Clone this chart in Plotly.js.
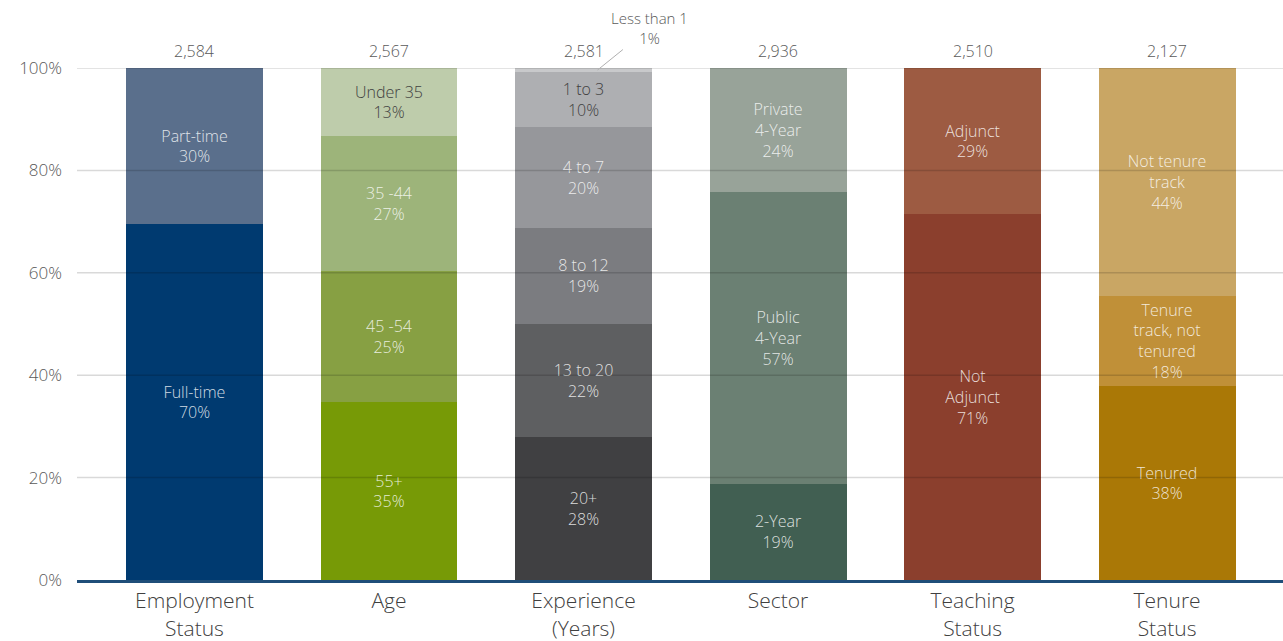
<!DOCTYPE html>
<html>
<head>
<meta charset="utf-8">
<script src="https://cdn.plot.ly/plotly-3.0.1.min.js"></script>
<style>html,body{margin:0;padding:0;background:#fff;} #chart{width:1283px;height:641px;}</style>
</head>
<body>
<div id="chart"></div>
<script>
const categories = ['Employment<br>Status', 'Age', 'Experience<br>(Years)', 'Sector', 'Teaching<br>Status', 'Tenure<br>Status'];
const totals = [2584, 2567, 2581, 2936, 2510, 2127];
const yTicks = [0, 20, 40, 60, 80, 100];

const employmentSegments = ['Full-time', 'Part-time'];
const employmentValues = [69.5, 30.5];
const employmentPct = [70, 30];

const ageSegments = ['55+', '45 -54', '35 -44', 'Under 35'];
const ageValues = [34.8, 25.6, 26.3, 13.3];
const agePct = [35, 25, 27, 13];

const experienceSegments = ['20+', '13 to 20', '8 to 12', '4 to 7', '1 to 3', 'Less than 1'];
const experienceValues = [27.9, 22.1, 18.8, 19.7, 10.7, 0.8];
const experiencePct = [28, 22, 19, 20, 10, 1];

const sectorSegments = ['2-Year', 'Public<br>4-Year', 'Private<br>4-Year'];
const sectorValues = [18.8, 57.0, 24.2];
const sectorPct = [19, 57, 24];

const teachingSegments = ['Not<br>Adjunct', 'Adjunct'];
const teachingValues = [71.5, 28.5];
const teachingPct = [71, 29];

const tenureSegments = ['Tenured', 'Tenure<br>track, not<br>tenured', 'Not tenure<br>track'];
const tenureValues = [37.9, 17.6, 44.5];
const tenurePct = [38, 18, 44];

// styles
const employmentColors = ['#003A70', '#5A6F8C'];
const ageColors = ['#779A06', '#87A043', '#9DB47A', '#BECCAB'];
const experienceColors = ['#404042', '#5E5F61', '#7B7C80', '#96979B', '#AEAFB2', '#C8C9CB'];
const sectorColors = ['#415F52', '#6B8073', '#98A399'];
const teachingColors = ['#8B3F2D', '#9D5B42'];
const tenureColors = ['#AA7806', '#C09038', '#C9A664'];

const LIGHT = 'rgba(255,255,255,0.82)';
const DARK = '#404040';
const employmentText = [LIGHT, LIGHT];
const ageText = [LIGHT, LIGHT, LIGHT, DARK];
const experienceText = [LIGHT, LIGHT, LIGHT, LIGHT, DARK, DARK];
const sectorText = [LIGHT, LIGHT, LIGHT];
const teachingText = [LIGHT, LIGHT];
const tenureText = [LIGHT, LIGHT, LIGHT];

const groups = [
  {seg: employmentSegments, val: employmentValues, pct: employmentPct, col: employmentColors, tc: employmentText},
  {seg: ageSegments, val: ageValues, pct: agePct, col: ageColors, tc: ageText},
  {seg: experienceSegments, val: experienceValues, pct: experiencePct, col: experienceColors, tc: experienceText},
  {seg: sectorSegments, val: sectorValues, pct: sectorPct, col: sectorColors, tc: sectorText},
  {seg: teachingSegments, val: teachingValues, pct: teachingPct, col: teachingColors, tc: teachingText},
  {seg: tenureSegments, val: tenureValues, pct: tenurePct, col: tenureColors, tc: tenureText}
];

const FONT = '"Open Sans", Lato, sans-serif';
const W = 300;
const traces = [];
groups.forEach((g, i) => {
  g.seg.forEach((s, j) => {
    const inside = g.val[j] >= 3;
    traces.push({
      type: 'bar',
      x: [categories[i]],
      y: [g.val[j]],
      text: [inside ? s + '<br>' + g.pct[j] + '%' : ''],
      textposition: 'inside',
      insidetextanchor: 'middle',
      textangle: 0,
      constraintext: 'none',
      textfont: {family: FONT, size: 16, weight: W, color: g.tc[j]},
      marker: {color: g.col[j], line: {width: 0}},
      showlegend: false,
      hoverinfo: 'skip'
    });
  });
});

const annotations = categories.map((c, i) => ({
  x: c, y: 100, xref: 'x', yref: 'y',
  text: totals[i].toLocaleString('en-US'),
  showarrow: false, yanchor: 'bottom', yshift: 4,
  font: {family: FONT, size: 16, weight: W, color: '#595959'}
}));

// small segment callout
const expTop = experienceValues.reduce((a, b) => a + b, 0);
const small = experienceValues[experienceValues.length - 1];
annotations.push({
  x: categories[2], y: expTop - small / 2, xref: 'x', yref: 'y',
  xshift: 14,
  text: experienceSegments[5] + '<br>' + experiencePct[5] + '%',
  showarrow: true, arrowhead: 0, arrowwidth: 1, arrowcolor: '#b0b0b0',
  ax: 52, ay: -42, standoff: 0,
  font: {family: FONT, size: 15, weight: W, color: '#595959'}
});

const shapes = yTicks.filter(t => t > 0).map(t => ({
  type: 'line', xref: 'paper', x0: 0, x1: 1, yref: 'y', y0: t, y1: t,
  line: {color: 'rgba(0,0,0,0.15)', width: 1.5}, layer: 'above'
}));

const layout = {
  width: 1283, height: 641,
  margin: {l: 77, r: 0, t: 68, b: 61},
  paper_bgcolor: '#ffffff', plot_bgcolor: '#ffffff',
  barmode: 'stack', bargap: 0.296,
  font: {family: FONT, color: '#595959'},
  xaxis: {
    type: 'category', range: [-0.604, 5.596],
    showgrid: false, zeroline: false,
    showline: true, linecolor: '#1F4E79', linewidth: 3,
    ticks: '', ticklabelstandoff: 0,
    tickfont: {family: FONT, size: 21, weight: W, color: '#404040'}
  },
  yaxis: {
    range: [0, 100], tickvals: yTicks, ticktext: yTicks.map(t => t + '%'),
    showgrid: false, zeroline: false, showline: false,
    ticks: '', ticklabelstandoff: 14,
    tickfont: {family: FONT, size: 17, weight: W, color: '#595959'}
  },
  annotations: annotations,
  shapes: shapes
};

Plotly.newPlot('chart', traces, layout, {displayModeBar: false, staticPlot: true});
</script>
</body>
</html>
